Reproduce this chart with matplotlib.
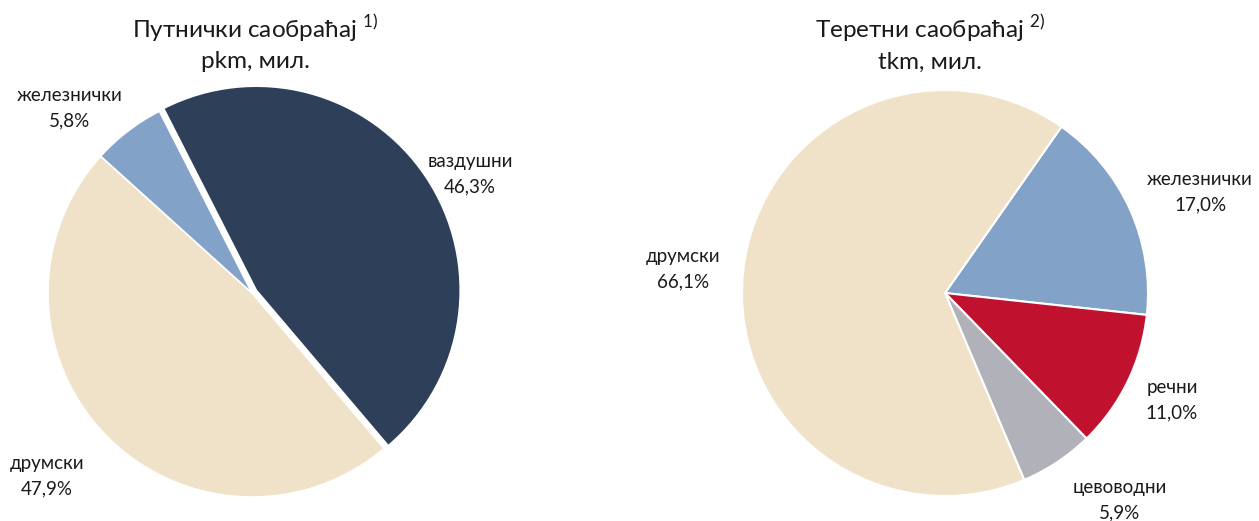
import matplotlib
matplotlib.use("Agg")
import matplotlib.pyplot as plt

plt.rcParams['font.family'] = ['Lato', 'DejaVu Sans']

W, H = 1259, 521

# Data
pass_labels = ["ваздушни", "друмски", "железнички"]
pass_values = [46.3, 47.9, 5.8]
pass_colors = ["#2E4059", "#F0E2C8", "#82A2C8"]

freight_labels = ["железнички", "речни", "цевоводни", "друмски"]
freight_values = [17.0, 11.0, 5.9, 66.1]
freight_colors = ["#82A2C8", "#C0112F", "#B1B1B9", "#F0E2C8"]

fig = plt.figure(figsize=(W / 100, H / 100), dpi=100)

def pie_axes(cx, cy, r):
    half = 1.2 * r
    ax = fig.add_axes([(cx - half) / W, (H - cy - half) / H, 2 * half / W, 2 * half / H])
    return ax

def finish(ax):
    ax.set_xlim(-1.2, 1.2)
    ax.set_ylim(-1.2, 1.2)
    ax.set_aspect('equal')
    ax.axis('off')

ax1 = pie_axes(252, 293, 204)
ax1.pie(pass_values, colors=pass_colors, startangle=117, counterclock=False,
        explode=[0.025, 0, 0], radius=1.0,
        wedgeprops=dict(edgecolor='white', linewidth=1.2))
finish(ax1)

ax2 = pie_axes(945, 293, 203)
ax2.pie(freight_values, colors=freight_colors, startangle=55, counterclock=False,
        radius=1.0, wedgeprops=dict(edgecolor='white', linewidth=1.5))
finish(ax2)

def fmt(v):
    return f"{v:.1f}".replace('.', ',') + "%"

def label(x, y, name, val):
    fig.text(x / W, 1 - y / H, name + "\n" + fmt(val), ha='center', va='center',
             fontsize=13.5, color='#1a1a1a', linespacing=1.6)

label(70, 108, pass_labels[2], pass_values[2])
label(470, 174, pass_labels[0], pass_values[0])
label(47, 476, pass_labels[1], pass_values[1])

label(683, 269, freight_labels[3], freight_values[3])
label(1200, 192, freight_labels[0], freight_values[0])
label(1172, 400, freight_labels[1], freight_values[1])
label(1120, 500, freight_labels[2], freight_values[2])

def title(x, y, line1, sup, line2):
    fig.text(x / W, 1 - y / H, line1 + r"$^{\mathregular{" + sup + "}}$", ha='center', va='center',
             fontsize=17.5, color='#1a1a1a')
    fig.text(x / W, 1 - (y + 34) / H, line2, ha='center', va='center',
             fontsize=17.5, color='#1a1a1a')

title(255, 28, "Путнички саобраћај ", "1)", "pkm, мил.")
title(930, 28, "Теретни саобраћај ", "2)", "tkm, мил.")

fig.savefig("out.png", dpi=100, facecolor='white')
